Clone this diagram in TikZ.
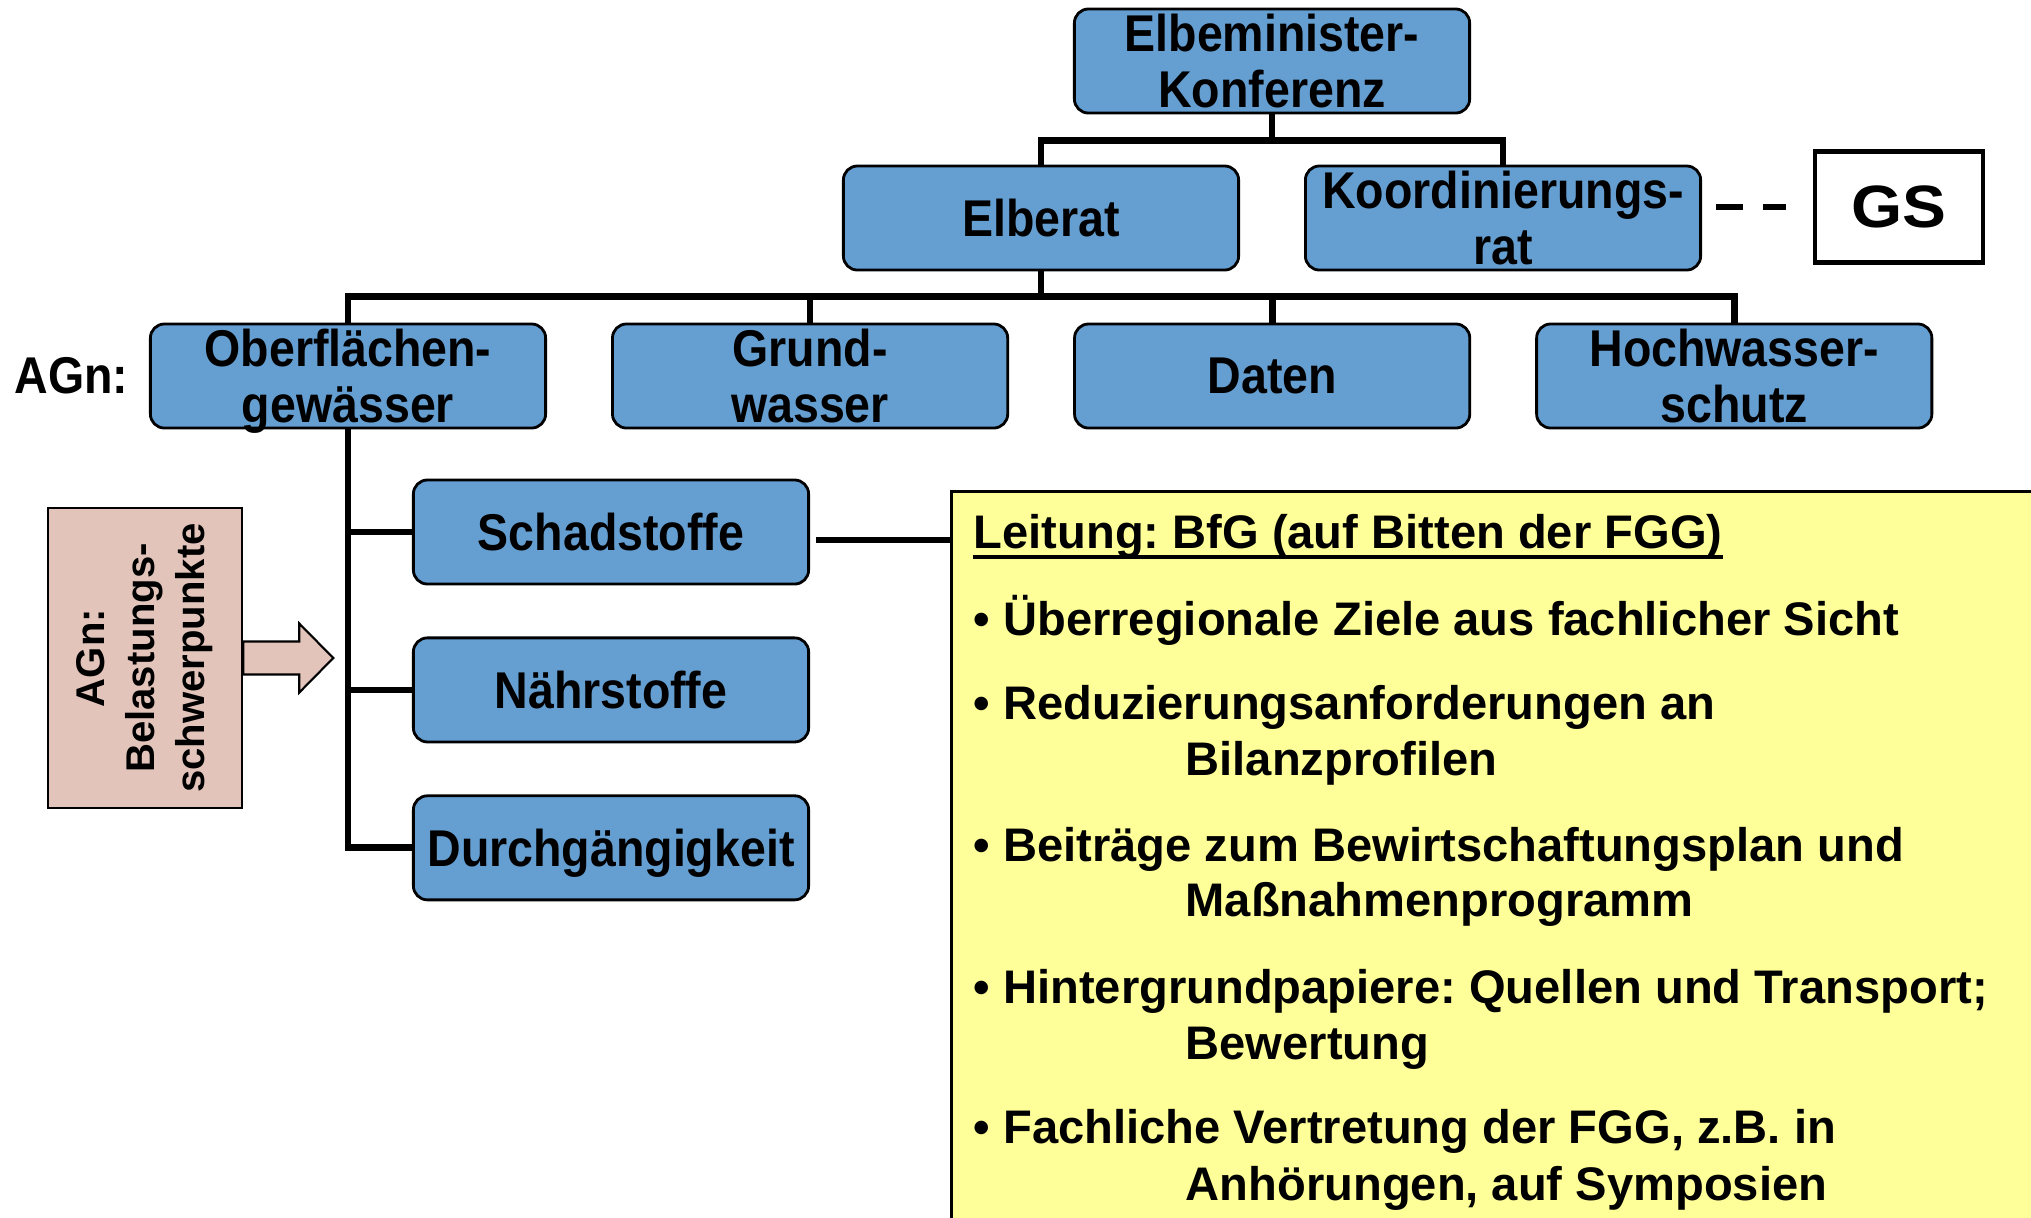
\documentclass[tikz,border=0pt]{standalone}
\usepackage{fontspec}
\setmainfont{Liberation Sans}
\newfontfamily\narrowsans{Liberation Sans}[FakeStretch=0.9]
\newfontfamily\widesans{Liberation Sans}[FakeStretch=1.1]
\usepackage{xcolor}
\usetikzlibrary{positioning, calc}
\frenchspacing
\definecolor{blue1}{RGB}{101,159,210}
\definecolor{rose1}{RGB}{226,196,187}
\definecolor{yellow1}{RGB}{255,255,153}
\def\boxfont{\narrowsans\bfseries\fontsize{14.7}{15.9}\selectfont}
\def\gsfont{\widesans\bfseries\fontsize{17}{17}\selectfont}
\def\sidefont{\bfseries\fontsize{11.4}{14.2}\selectfont}
\def\infofont{\bfseries\fontsize{13.4}{15.9}\selectfont}

\begin{document}
\begin{tikzpicture}[x=0.01cm, y=-0.01cm,
    orgbox/.style={draw, line width=0.8pt, fill=blue1, rounded corners=0.14cm,
        minimum width=3.95cm, minimum height=1.04cm, inner sep=0pt,
        text depth=0pt, align=center, font=\boxfont},
    tree/.style={line width=1.9pt},
    gsbox/.style={draw, line width=1.2pt, fill=white, minimum width=1.68cm,
        minimum height=1.11cm, inner sep=0pt, font=\gsfont},
    gslink/.style={line width=1.7pt, dash pattern=on 0.27cm off 0.2cm,
        shorten <=0.14cm, shorten >=0.27cm},
    sidebox/.style={draw, line width=0.7pt, fill=rose1, minimum width=3.0cm,
        minimum height=1.94cm, inner sep=0pt, align=center, font=\sidefont},
    sidearrow/.style={draw, line width=0.6pt, fill=rose1},
    infobox/.style={draw, line width=0.8pt, fill=yellow1, anchor=north west,
        minimum width=12cm, minimum height=8cm},
    infoline/.style={anchor=base west, inner sep=0pt, font=\infofont}
]
\useasboundingbox (0,0) rectangle (2031,1217);

% Gremien oben
\node[orgbox] (konf) at (1272,61) {Elbeminister-\\Konferenz};
\node[orgbox] (rat) at (1041,218) {Elberat};
\node[orgbox] (koord) at (1503,218) {Koordinierungs-\\rat};
\node[gsbox] (gs) at (1899,207) {GS};

% Arbeitsgruppen
\node[orgbox] (ag1) at (348,376) {Oberflächen-\\gewässer};
\node[orgbox, right=0.64cm of ag1] (ag2) {Grund-\\wasser};
\node[orgbox, right=0.64cm of ag2] (ag3) {Daten};
\node[orgbox, right=0.64cm of ag3] (ag4) {Hochwasser-\\schutz};
\node[left=0.2cm of ag1, inner sep=0pt, font=\boxfont] (agn) {AGn:};

% Unter-AGs
\node[orgbox] (sch) at (611,532) {Schadstoffe};
\node[orgbox, below=0.51cm of sch] (naehr) {Nährstoffe};
\node[orgbox, below=0.51cm of naehr] (durch) {Durchgängigkeit};

% AG Belastungsschwerpunkte (rotated, so .south is the right side)
\node[sidebox, rotate=90] (belast) at (145,658) {AGn:\\Belastungs-\\schwerpunkte};
\draw[sidearrow, shift={(belast.south)}] (0,-16.5) -- (56,-16.5) -- (56,-34.5)
    -- (90,0) -- (56,34.5) -- (56,16.5) -- (0,16.5) -- cycle;

% Kasten Leitung
\node[infobox] (lead) at (950,490) {};
\node[infoline] (lt) at (973,548) {Leitung: BfG (auf Bitten der FGG)};
\draw[line width=1.2pt] ([yshift=-2.6pt]lt.base west) -- ([yshift=-2.6pt]lt.base east);
\foreach \yb/\txt [count=\i] in {635/{Überregionale Ziele aus fachlicher Sicht},
    719/{Reduzierungsanforderungen an}, 861/{Beiträge zum Bewirtschaftungsplan und},
    1003/{Hintergrundpapiere: Quellen und Transport;},
    1143/{Fachliche Vertretung der FGG, z.B. in}} {
    \node[infoline] (b\i) at (973,\yb) {• \txt};
}
\foreach \yb/\txt [count=\i from 2] in {775/Bilanzprofilen, 916/Maßnahmenprogramm,
    1059/Bewertung, 1200/{Anhörungen, auf Symposien}} {
    \node[infoline] (c\i) at (1185,\yb) {\txt};
}

% Verbindungen
\draw[tree] (konf.south) -- ++(0,26) coordinate (k1);
\draw[tree] (rat.north) |- (k1) -| (koord.north);
\draw[tree] (rat.south) -- ++(0,25) coordinate (k2);
\draw[tree] (ag1.north) |- (k2) -| (ag4.north);
\foreach \n in {ag2, ag3} {
    \draw[tree] (\n.north) -- (\n.north |- k2);
}
\draw[tree] (ag1.south) |- (durch.west);
\foreach \n in {sch, naehr} {
    \draw[tree] (ag1.south |- \n.west) -- (\n.west);
}
\draw[tree] (sch.east) ++(6,8) coordinate (s1) -- (s1 -| lead.west);
\draw[gslink] (koord.east |- gs.west) -- (gs.west);

\end{tikzpicture}
\end{document}
